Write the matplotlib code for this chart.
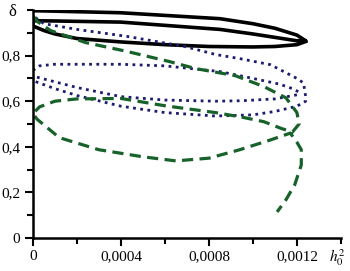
import matplotlib
matplotlib.use("Agg")
import matplotlib.pyplot as plt
from matplotlib.ticker import MultipleLocator

plt.rcParams["font.family"] = ["Liberation Serif", "DejaVu Serif"]
plt.rcParams["mathtext.fontset"] = "stix"

# black solid: upper loop + lower branch
black_x = [0, 0.0001, 0.0004, 0.00085, 0.001, 0.0011, 0.0012, 0.00124,
           0.0012, 0.0011, 0.001, 0.00085, 0.0004, 0.0001, 0,
           0, 0.00005, 0.0001, 0.0002, 0.0004, 0.0006, 0.0008, 0.001, 0.0011, 0.0012, 0.00124]
black_y = [0.997, 0.995, 0.988, 0.962, 0.94, 0.92, 0.89, 0.865,
           0.865, 0.88, 0.895, 0.915, 0.947, 0.952, 0.953,
           0.93, 0.91, 0.895, 0.875, 0.86, 0.848, 0.84, 0.838, 0.84, 0.848, 0.862]

# navy dotted
dot_x = [0, 0.00003, 0.0001, 0.0004, 0.0006, 0.00085, 0.001, 0.00112, 0.00118, 0.00121,
         0.0012, 0.0011, 0.00095, 0.00083, 0.0006, 0.0004, 0.0002, 0.0001, 0,
         0, 0.0001, 0.0002, 0.0004, 0.0006, 0.00083, 0.001, 0.0011, 0.0012, 0.00124,
         0.00124, 0.00123, 0.0012, 0.00108, 0.00095, 0.00083, 0.00069, 0.00043, 0.0002, 0.00005, 0]
dot_y = [0.735, 0.755, 0.762, 0.762, 0.755, 0.73, 0.7, 0.675, 0.655, 0.64,
         0.628, 0.61, 0.602, 0.6, 0.605, 0.62, 0.66, 0.685, 0.71,
         0.69, 0.655, 0.625, 0.578, 0.55, 0.535, 0.54, 0.555, 0.578, 0.6,
         0.62, 0.68, 0.7, 0.76, 0.785, 0.805, 0.84, 0.884, 0.915, 0.94, 0.975]

# green dashed
dash_x = [0, 0.00002, 0.00008, 0.00024, 0.00042, 0.00062, 0.00074, 0.00092, 0.00105, 0.00115,
          0.0012, 0.00121, 0.00118,
          0.00113, 0.00105, 0.00095, 0.00083, 0.0006, 0.0004, 0.0002, 0.0001, 0.00003, 0,
          0.00002, 0.00012, 0.0003, 0.0005, 0.00065, 0.0008, 0.00094, 0.00108, 0.00117,
          0.0012, 0.00122, 0.00122, 0.00119, 0.00115, 0.00111]
dash_y = [0.975, 0.95, 0.91, 0.857, 0.82, 0.774, 0.743, 0.712, 0.664, 0.615,
          0.55, 0.5, 0.465,
          0.48, 0.51, 0.53, 0.55, 0.58, 0.612, 0.61, 0.6, 0.575, 0.545,
          0.52, 0.44, 0.387, 0.356, 0.338, 0.35, 0.387, 0.43, 0.46,
          0.42, 0.387, 0.32, 0.233, 0.167, 0.114]

xticks = [0, 0.0004, 0.0008, 0.0012]
xtick_labels = ["0", "0,0004", "0,0008", "0,0012"]
yticks = [0, 0.2, 0.4, 0.6, 0.8]
ytick_labels = ["0", "0,2", "0,4", "0,6", "0,8"]

fig = plt.figure(figsize=(3.5, 2.71), dpi=100)
ax = fig.add_axes([0.094, 0.122, 0.88, 0.841])

ax.plot(black_x, black_y, color="black", lw=2.6, solid_joinstyle="round")
ax.plot(dot_x, dot_y, color="#1c1c6e", lw=2.0, linestyle=(0, (1, 1.6)))
ax.plot(dash_x, dash_y, color="#17622a", lw=2.3, linestyle=(0, (3.5, 2.0)))

ax.set_xlim(0, 0.0014)
ax.set_ylim(0, 1.0)
ax.set_xticks(xticks, xtick_labels)
ax.set_yticks(yticks, ytick_labels)
ax.xaxis.set_minor_locator(MultipleLocator(0.0002))
ax.yaxis.set_minor_locator(MultipleLocator(0.1))
ax.tick_params(which="major", direction="out", length=6, width=1.5, labelsize=11, pad=3)
ax.tick_params(which="minor", direction="out", length=4, width=1.5)

for s in ["top", "right"]:
    ax.spines[s].set_visible(False)
for s in ["left", "bottom"]:
    ax.spines[s].set_linewidth(1.8)

ax.text(-0.068, 0.99, "δ", transform=ax.transAxes, fontsize=12, ha="center", va="center")
ax.text(0.99, -0.085, r"$h_0^2$", transform=ax.transAxes, fontsize=11, ha="center", va="center")

fig.savefig("out.png", dpi=100)
